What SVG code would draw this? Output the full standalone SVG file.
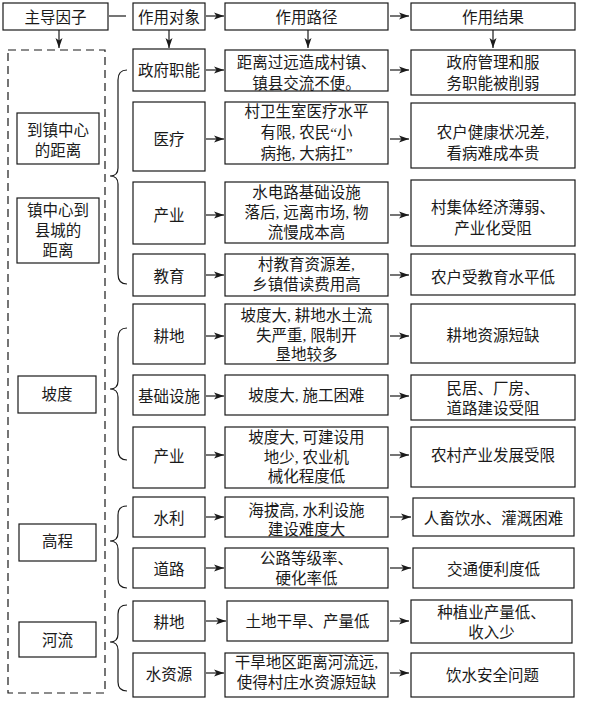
<svg xmlns="http://www.w3.org/2000/svg" width="591" height="703" viewBox="0 0 591 703">
<style>
.b{fill:#fff;stroke:#1a1a1a;stroke-width:1.2}
.t{font-family:"Liberation Serif","Noto Sans CJK SC",serif;font-size:15.5px;fill:#1a1a1a;text-anchor:middle}
.c{fill:none;stroke:#1a1a1a;stroke-width:1.2}
.a{fill:none;stroke:#1a1a1a;stroke-width:1.2;marker-end:url(#ah)}
</style>
<defs>
<marker id="ah" markerWidth="10" markerHeight="8" refX="10" refY="4" orient="auto" markerUnits="userSpaceOnUse">
<path d="M0,0.5 L10,4 L0,7.5 L2.5,4 Z" fill="#1a1a1a"/>
</marker>
</defs>
<rect width="591" height="703" fill="#fff"/>

<g id="connectors">
<line class="c" x1="109" y1="16" x2="126" y2="16"/>
<line class="a" x1="206" y1="16" x2="224" y2="16"/>
<line class="a" x1="390" y1="16" x2="409" y2="16"/>
<line class="a" x1="59" y1="30" x2="59" y2="48"/>
<line class="a" x1="169" y1="30" x2="169" y2="48"/>
<line class="a" x1="308" y1="30" x2="308" y2="48"/>
<line class="a" x1="493" y1="30" x2="493" y2="48"/>
<rect x="8" y="50" width="97" height="643" fill="none" stroke="#1a1a1a" stroke-width="1.2" stroke-dasharray="8,5"/>
<path class="c" d="M127 70 Q118 70 118 80 L118 168 Q118 176 110 176 Q118 176 118 184 L118 274 Q118 284 127 284"/>
<path class="c" d="M127 328 Q118 328 118 338 L118 381 Q118 389 110 389 Q118 389 118 397 L118 450 Q118 460 127 460"/>
<path class="c" d="M127 506 Q118 506 118 515 L118 533 Q118 541 110 541 Q118 541 118 549 L118 579 Q118 588 127 588"/>
<path class="c" d="M127 605 Q118 605 118 614 L118 634 Q118 642 110 642 Q118 642 118 650 L118 682 Q118 691 127 691"/>
<line class="a" x1="206" y1="70" x2="224" y2="70"/>
<line class="a" x1="390" y1="70" x2="409" y2="70"/>
<line class="a" x1="206" y1="139" x2="224" y2="139"/>
<line class="a" x1="390" y1="139" x2="409" y2="139"/>
<line class="a" x1="206" y1="215" x2="224" y2="215"/>
<line class="a" x1="390" y1="215" x2="409" y2="215"/>
<line class="a" x1="206" y1="275" x2="224" y2="275"/>
<line class="a" x1="390" y1="275" x2="409" y2="275"/>
<line class="a" x1="206" y1="336" x2="224" y2="336"/>
<line class="a" x1="390" y1="336" x2="409" y2="336"/>
<line class="a" x1="206" y1="396" x2="224" y2="396"/>
<line class="a" x1="390" y1="396" x2="409" y2="396"/>
<line class="a" x1="206" y1="455" x2="224" y2="455"/>
<line class="a" x1="390" y1="455" x2="409" y2="455"/>
<line class="a" x1="206" y1="517" x2="224" y2="517"/>
<line class="a" x1="390" y1="517" x2="411" y2="517"/>
<line class="a" x1="206" y1="568" x2="224" y2="568"/>
<line class="a" x1="390" y1="568" x2="411" y2="568"/>
<line class="a" x1="206" y1="621" x2="226" y2="621"/>
<line class="a" x1="390" y1="621" x2="409" y2="621"/>
<line class="a" x1="206" y1="673" x2="224" y2="673"/>
<line class="a" x1="390" y1="673" x2="409" y2="673"/>
</g>

<g id="h1"><rect class="b" x="3" y="3" width="105" height="27"/><text class="t" x="55.5" y="22.5">主导因子</text></g>
<g id="h2"><rect class="b" x="133" y="3" width="72" height="27"/><text class="t" x="169" y="22.5">作用对象</text></g>
<g id="h3"><rect class="b" x="225" y="3" width="163" height="27"/><text class="t" x="306.5" y="22.5">作用路径</text></g>
<g id="h4"><rect class="b" x="411" y="3" width="164" height="27"/><text class="t" x="493" y="22.5">作用结果</text></g>

<g id="f1"><rect class="b" x="17" y="113" width="82" height="51"/><text class="t" x="58" y="135.5">到镇中心</text><text class="t" x="58" y="155.5">的距离</text></g>
<g id="f2"><rect class="b" x="17" y="198" width="82" height="65"/><text class="t" x="58" y="215.5">镇中心到</text><text class="t" x="58" y="235.5">县城的</text><text class="t" x="58" y="255.5">距离</text></g>
<g id="f3"><rect class="b" x="18" y="376" width="78" height="37"/><text class="t" x="57" y="399.5">坡度</text></g>
<g id="f4"><rect class="b" x="19" y="524" width="77" height="37"/><text class="t" x="57.5" y="546.5">高程</text></g>
<g id="f5"><rect class="b" x="19" y="622" width="77" height="35"/><text class="t" x="57.5" y="645.5">河流</text></g>

<g id="o1"><rect class="b" x="133" y="49" width="72" height="42"/><text class="t" x="169" y="75.5">政府职能</text></g>
<g id="o2"><rect class="b" x="133" y="102" width="72" height="69"/><text class="t" x="169" y="144.5">医疗</text></g>
<g id="o3"><rect class="b" x="133" y="182" width="72" height="62"/><text class="t" x="169" y="220.5">产业</text></g>
<g id="o4"><rect class="b" x="133" y="254" width="72" height="42"/><text class="t" x="169" y="281.5">教育</text></g>
<g id="o5"><rect class="b" x="133" y="304" width="72" height="60"/><text class="t" x="169" y="341.5">耕地</text></g>
<g id="o6"><rect class="b" x="133" y="375" width="72" height="40"/><text class="t" x="169" y="401.5">基础设施</text></g>
<g id="o7"><rect class="b" x="133" y="427" width="72" height="61"/><text class="t" x="169" y="461.5">产业</text></g>
<g id="o8"><rect class="b" x="133" y="497" width="72" height="40"/><text class="t" x="169" y="523.5">水利</text></g>
<g id="o9"><rect class="b" x="133" y="548" width="72" height="40"/><text class="t" x="169" y="574.5">道路</text></g>
<g id="o10"><rect class="b" x="133" y="601" width="72" height="40"/><text class="t" x="169" y="627.5">耕地</text></g>
<g id="o11"><rect class="b" x="133" y="653" width="72" height="44"/><text class="t" x="169" y="679.5">水资源</text></g>

<g id="p1"><rect class="b" x="225" y="50" width="163" height="41"/><text class="t" x="306.5" y="67.5">距离过远造成村镇、</text><text class="t" x="306.5" y="88.5">镇县交流不便。</text></g>
<g id="p2"><rect class="b" x="225" y="102" width="163" height="62"/><text class="t" x="306.5" y="116.5">村卫生室医疗水平</text><text class="t" x="306.5" y="137.5">有限, 农民“小</text><text class="t" x="306.5" y="158.5">病拖, 大病扛”</text></g>
<g id="p3"><rect class="b" x="225" y="182" width="163" height="61"/><text class="t" x="306.5" y="197.5">水电路基础设施</text><text class="t" x="306.5" y="217.5">落后, 远离市场, 物</text><text class="t" x="306.5" y="237.5">流慢成本高</text></g>
<g id="p4"><rect class="b" x="225" y="254" width="163" height="42"/><text class="t" x="306.5" y="269.5">村教育资源差,</text><text class="t" x="306.5" y="289.5">乡镇借读费用高</text></g>
<g id="p5"><rect class="b" x="225" y="304" width="163" height="60"/><text class="t" x="306.5" y="320.5">坡度大, 耕地水土流</text><text class="t" x="306.5" y="340.5">失严重, 限制开</text><text class="t" x="306.5" y="359.5">垦地较多</text></g>
<g id="p6"><rect class="b" x="225" y="375" width="163" height="40"/><text class="t" x="306.5" y="400.5">坡度大, 施工困难</text></g>
<g id="p7"><rect class="b" x="225" y="427" width="163" height="61"/><text class="t" x="306.5" y="442.5">坡度大, 可建设用</text><text class="t" x="306.5" y="462.5">地少, 农业机</text><text class="t" x="306.5" y="481.5">械化程度低</text></g>
<g id="p8"><rect class="b" x="225" y="497" width="163" height="40"/><text class="t" x="306.5" y="515.5">海拔高, 水利设施</text><text class="t" x="306.5" y="534.5">建设难度大</text></g>
<g id="p9"><rect class="b" x="225" y="548" width="163" height="40"/><text class="t" x="306.5" y="563.5">公路等级率、</text><text class="t" x="306.5" y="583.5">硬化率低</text></g>
<g id="p10"><rect class="b" x="227" y="601" width="161" height="40"/><text class="t" x="307.5" y="626.5">土地干旱、产量低</text></g>
<g id="p11"><rect class="b" x="225" y="653" width="163" height="44"/><text class="t" x="306.5" y="667.5">干旱地区距离河流远,</text><text class="t" x="306.5" y="687.5">使得村庄水资源短缺</text></g>

<g id="r1"><rect class="b" x="411" y="50" width="164" height="45"/><text class="t" x="493" y="67.5">政府管理和服</text><text class="t" x="493" y="88.5">务职能被削弱</text></g>
<g id="r2"><rect class="b" x="411" y="103" width="164" height="65"/><text class="t" x="493" y="137.5">农户健康状况差,</text><text class="t" x="493" y="158.5">看病难成本贵</text></g>
<g id="r3"><rect class="b" x="411" y="180" width="164" height="66"/><text class="t" x="493" y="212.5">村集体经济薄弱、</text><text class="t" x="493" y="233.5">产业化受阻</text></g>
<g id="r4"><rect class="b" x="411" y="254" width="164" height="41"/><text class="t" x="493" y="282.5">农户受教育水平低</text></g>
<g id="r5"><rect class="b" x="411" y="304" width="164" height="59"/><text class="t" x="493" y="340.5">耕地资源短缺</text></g>
<g id="r6"><rect class="b" x="411" y="375" width="164" height="45"/><text class="t" x="493" y="393.5">民居、厂房、</text><text class="t" x="493" y="413.5">道路建设受阻</text></g>
<g id="r7"><rect class="b" x="411" y="427" width="164" height="60"/><text class="t" x="493" y="460.5">农村产业发展受限</text></g>
<g id="r8"><rect class="b" x="413" y="498" width="161" height="38"/><text class="t" x="493.5" y="523.5">人畜饮水、灌溉困难</text></g>
<g id="r9"><rect class="b" x="413" y="548" width="161" height="40"/><text class="t" x="493.5" y="574.5">交通便利度低</text></g>
<g id="r10"><rect class="b" x="411" y="600" width="161" height="43"/><text class="t" x="491.5" y="617.5">种植业产量低、</text><text class="t" x="491.5" y="637.5">收入少</text></g>
<g id="r11"><rect class="b" x="411" y="653" width="163" height="44"/><text class="t" x="492.5" y="680.5">饮水安全问题</text></g>
</svg>
